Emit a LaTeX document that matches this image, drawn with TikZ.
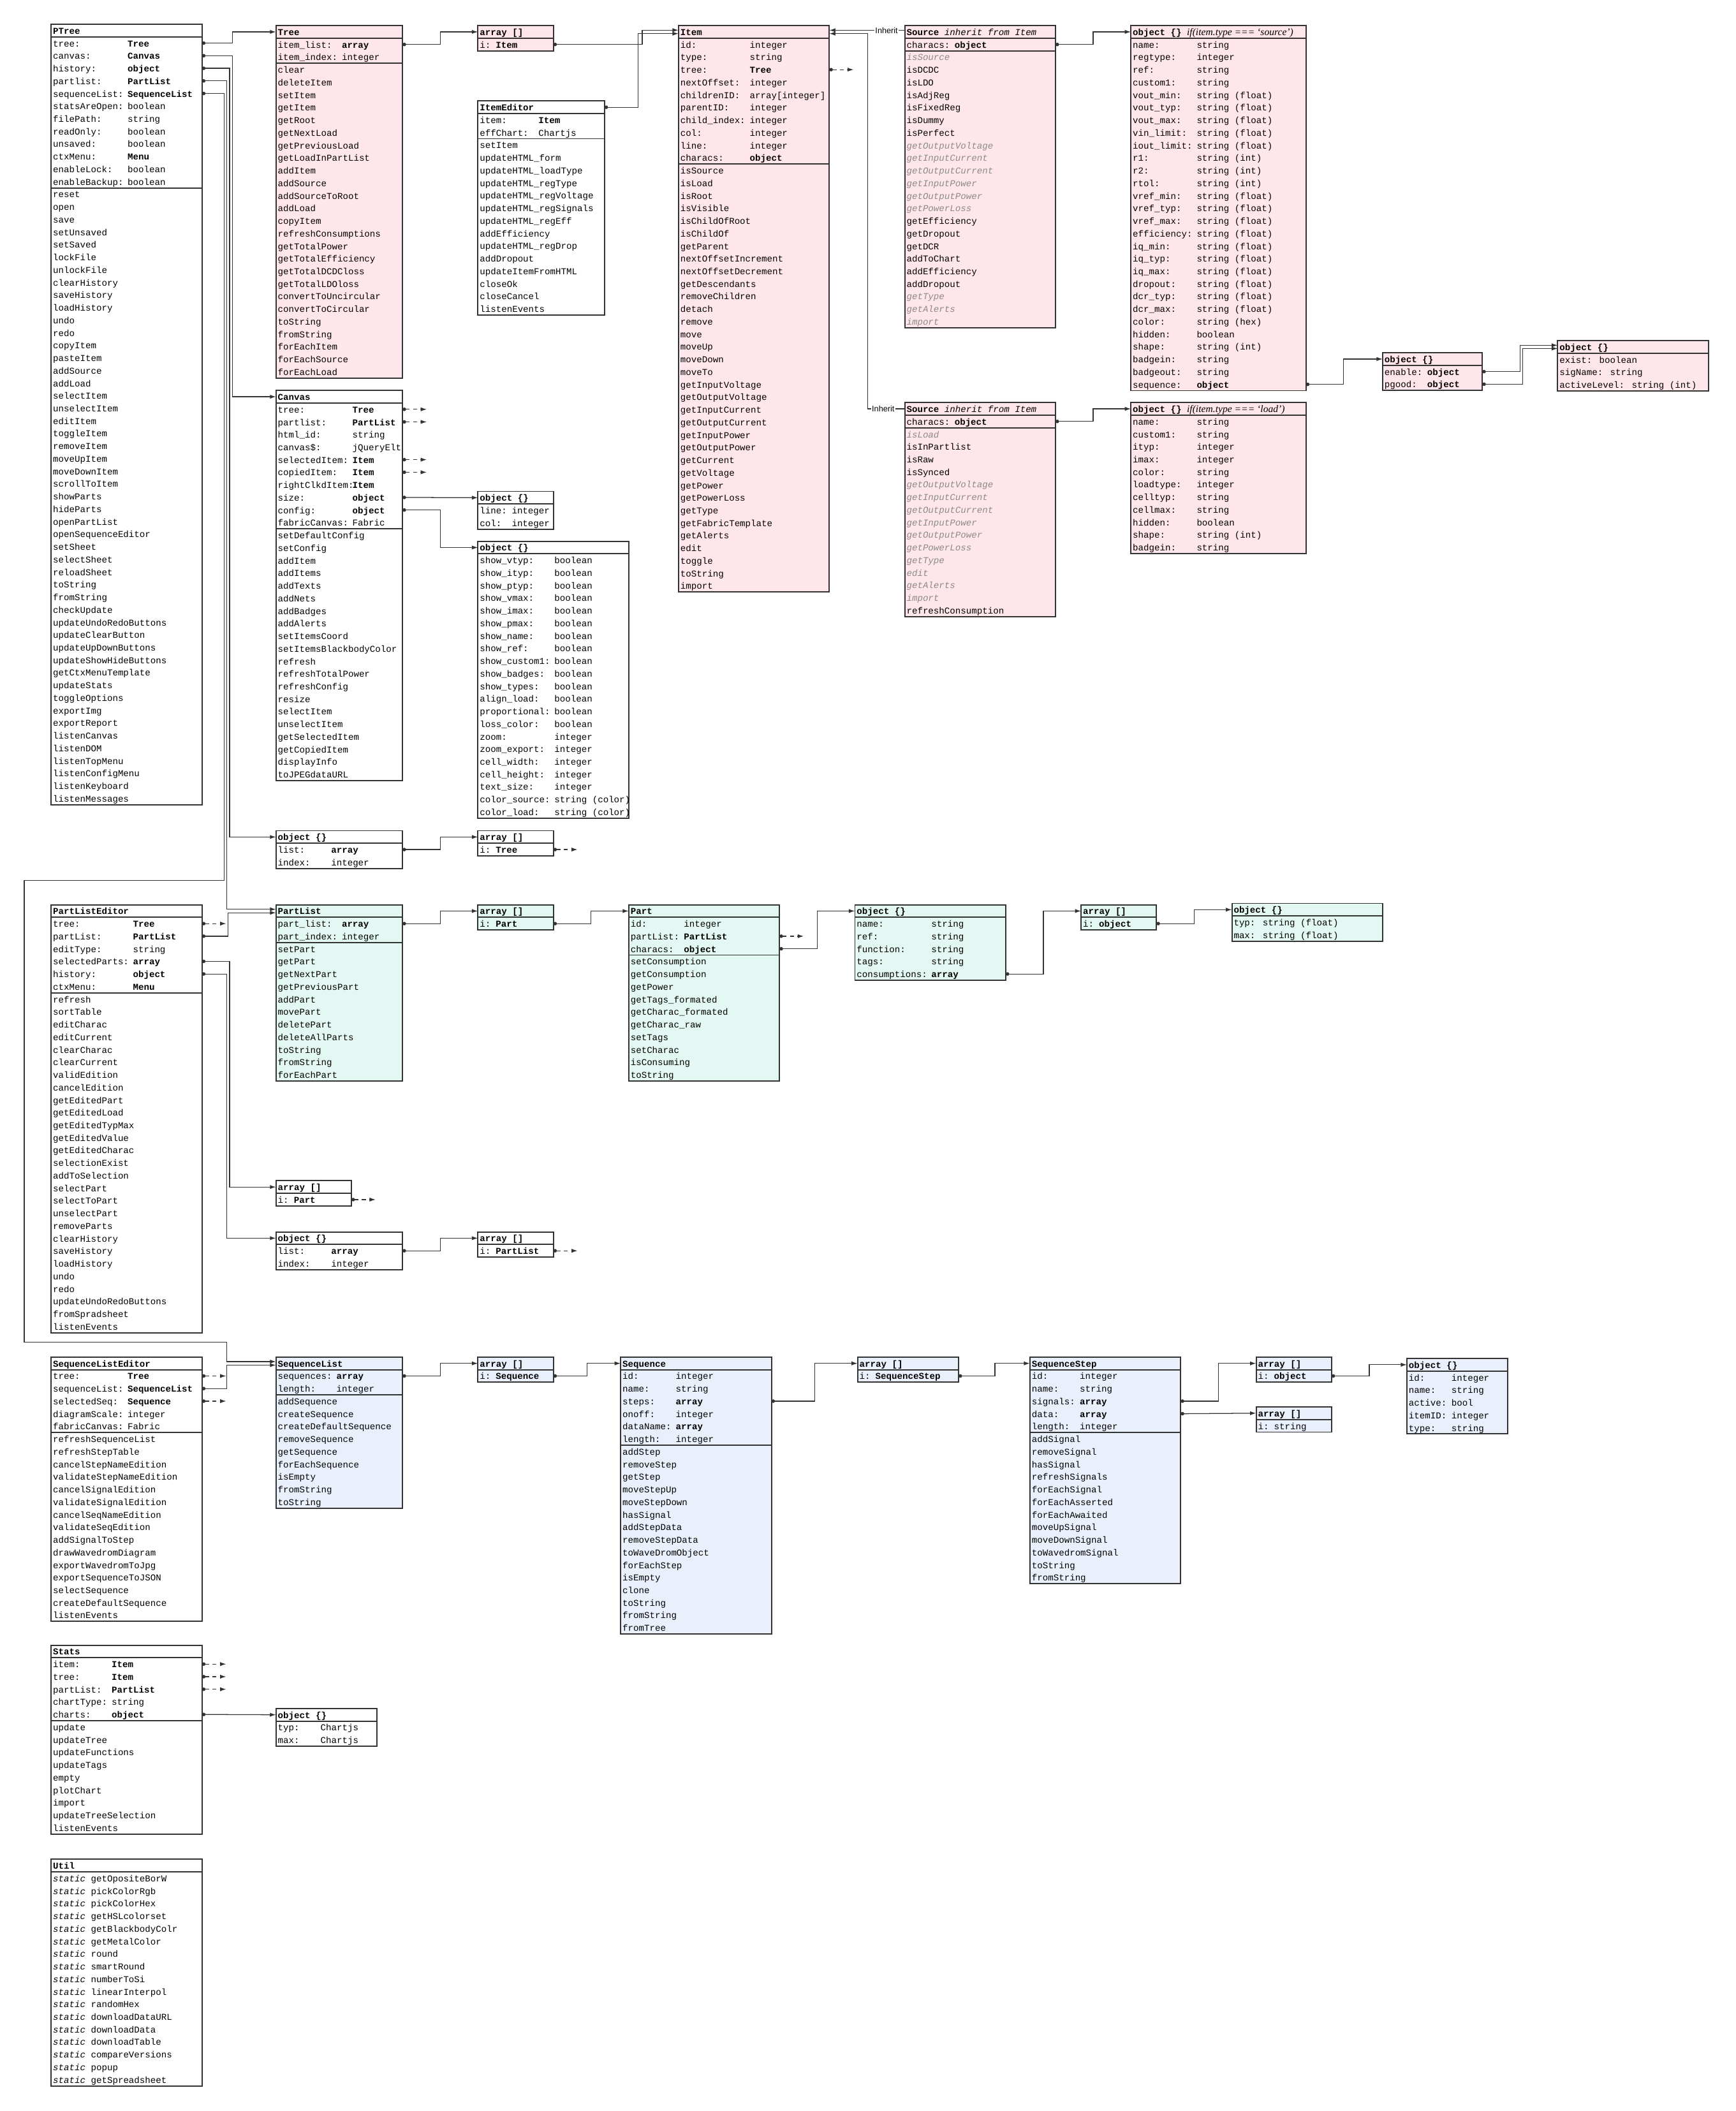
\documentclass[tikz,border=0pt]{standalone}
\usepackage{fontspec}
\setmainfont{Liberation Mono}
\newfontfamily\lsans{Liberation Sans}
\newfontfamily\lserif{Liberation Serif}
\usetikzlibrary{arrows.meta,calc}
\definecolor{pk}{HTML}{FFE6EB}
\definecolor{mt}{HTML}{E4F8F3}
\definecolor{bl}{HTML}{EAF0FB}
\definecolor{lc}{HTML}{333333}
\definecolor{gtx}{HTML}{8A8A8A}
\newcommand\gi[1]{{\color{gtx}\itshape #1}}
\newcommand\rh{9.35}
\newcommand\tyo{0.9}
\newcommand\cbox[8]{%
  \pgfmathsetmacro\cbx{#2}%
  \pgfmathsetmacro\cby{#3}%
  \pgfmathsetmacro\cbw{#4}%
  \pgfmathtruncatemacro\cbna{#5}%
  \pgfmathsetmacro\cbhh{(1+#5+#6)*\rh}%
  \node[box, fill=#7, minimum width=\cbw pt, minimum height=\cbhh pt] (#1) at ({\cbx+\cbw/2},{\cby+\cbhh/2}) {};%
  \draw[sepl] (\cbx,{\cby+\rh}) -- ({\cbx+\cbw},{\cby+\rh});%
  \ifnum#5>0 \ifnum#6>0 \draw[sepl] (\cbx,{\cby+(1+#5)*\rh}) -- ({\cbx+\cbw},{\cby+(1+#5)*\rh});\fi\fi
  \node[ttl] (#1-title) at ({\cbx+1.2},{\cby+0.5*\rh+\tyo}) {#8};%
  \coordinate (#1-t) at (\cbx,{\cby+0.5*\rh});%
  \coordinate (#1-tr) at ({\cbx+\cbw},{\cby+0.5*\rh});%
  \ifnum#5>0 \foreach \i in {1,...,#5}{\coordinate (#1-r\i) at ({\cbx+\cbw},{\cby+(\i+0.5)*\rh});}\fi
}
\newcommand\cattrs[3]{%
  \foreach \attrN/\attrT [count=\i] in {#3}{%
    \node[txt] (#1-a\i) at ({\cbx+1.2},{\cby+(\i+0.5)*\rh+\tyo}) {\attrN};
    \node[txt] (#1-b\i) at ({\cbx+1.2+#2*3.96},{\cby+(\i+0.5)*\rh+\tyo}) {\attrT};
  }%
}
\newcommand\cmeths[2]{%
  \foreach \mm [count=\i] in {#2}{%
    \node[txt] (#1-m\i) at ({\cbx+1.2},{\cby+(\cbna+\i+0.5)*\rh+\tyo}) {\mm};
  }%
}
\begin{document}
\begin{tikzpicture}[x=1pt,y=-1pt,
  box/.style={draw=lc, line width=0.9pt, inner sep=0pt, rectangle},
  sepl/.style={draw=lc, line width=0.9pt},
  txt/.style={anchor=west, inner sep=0pt, text height=4.7pt, text depth=1.3pt, font=\fontsize{6.7}{8}\selectfont},
  ttl/.style={txt, font=\fontsize{6.7}{8}\selectfont\bfseries},
  conn/.style={draw=lc, line width=0.6pt, {Circle[length=2.6pt]}-{Latex[length=4.5pt,width=3pt]}},
  dref/.style={conn, dash pattern=on 3pt off 2.5pt},
  inh/.style={draw=lc, line width=0.6pt, -{Latex[length=4.5pt,width=3pt]}},
  inhl/.style={font=\lsans\fontsize{6}{7}\selectfont, fill=white, inner sep=0.8pt}]
\fill[white] (0,0) rectangle (1289,1568);
\useasboundingbox (0,0) rectangle (1289,1568);

% ---------------- PTree
\cbox{ptree}{38}{18}{112}{12}{49}{white}{PTree}
\cattrs{ptree}{14}{tree:/\textbf{Tree}, canvas:/\textbf{Canvas}, history:/\textbf{object}, partlist:/\textbf{PartList}, sequenceList:/\textbf{SequenceList}, statsAreOpen:/boolean, filePath:/string, readOnly:/boolean, unsaved:/boolean, ctxMenu:/\textbf{Menu}, enableLock:/boolean, enableBackup:/boolean}
\cmeths{ptree}{reset, open, save, setUnsaved, setSaved, lockFile, unlockFile, clearHistory, saveHistory, loadHistory, undo, redo, copyItem, pasteItem, addSource, addLoad, selectItem, unselectItem, editItem, toggleItem, removeItem, moveUpItem, moveDownItem, scrollToItem, showParts, hideParts, openPartList, openSequenceEditor, setSheet, selectSheet, reloadSheet, toString, fromString, checkUpdate, updateUndoRedoButtons, updateClearButton, updateUpDownButtons, updateShowHideButtons, getCtxMenuTemplate, updateStats, toggleOptions, exportImg, exportReport, listenCanvas, listenDOM, listenTopMenu, listenConfigMenu, listenKeyboard, listenMessages}

% ---------------- Tree
\cbox{tree}{205}{19}{94}{2}{25}{pk}{Tree}
\cattrs{tree}{12}{item\_list:/\textbf{array}, item\_index:/integer}
\cmeths{tree}{clear, deleteItem, setItem, getItem, getRoot, getNextLoad, getPreviousLoad, getLoadInPartList, addItem, addSource, addSourceToRoot, addLoad, copyItem, refreshConsumptions, getTotalPower, getTotalEfficiency, getTotalDCDCloss, getTotalLDOloss, convertToUncircular, convertToCircular, toString, fromString, forEachItem, forEachSource, forEachLoad}

\cbox{arrI}{355}{19}{56}{1}{0}{pk}{array []}
\cattrs{arrI}{3}{i:/\textbf{Item}}

\cbox{itemed}{355}{75}{94}{2}{14}{white}{ItemEditor}
\cattrs{itemed}{11}{item:/\textbf{Item}, effChart:/Chartjs}
\cmeths{itemed}{setItem, updateHTML\_form, updateHTML\_loadType, updateHTML\_regType, updateHTML\_regVoltage, updateHTML\_regSignals, updateHTML\_regEff, addEfficiency, updateHTML\_regDrop, addDropout, updateItemFromHTML, closeOk, closeCancel, listenEvents}

% ---------------- Item
\cbox{item}{504}{19}{112}{10}{34}{pk}{Item}
\cattrs{item}{13}{id:/integer, type:/string, tree:/\textbf{Tree}, nextOffset:/integer, childrenID:/{array[integer]}, parentID:/integer, child\_index:/integer, col:/integer, line:/integer, characs:/\textbf{object}}
\cmeths{item}{isSource, isLoad, isRoot, isVisible, isChildOfRoot, isChildOf, getParent, nextOffsetIncrement, nextOffsetDecrement, getDescendants, removeChildren, detach, remove, move, moveUp, moveDown, moveTo, getInputVoltage, getOutputVoltage, getInputCurrent, getOutputCurrent, getInputPower, getOutputPower, getCurrent, getVoltage, getPower, getPowerLoss, getType, getFabricTemplate, getAlerts, edit, toggle, toString, import}

% ---------------- Sources
\cbox{srcA}{672}{19}{112}{1}{22}{pk}{Source {\mdseries\itshape inherit from Item}}
\cattrs{srcA}{9}{characs:/\textbf{object}}
\cmeths{srcA}{\gi{isSource}, isDCDC, isLDO, isAdjReg, isFixedReg, isDummy, isPerfect, \gi{getOutputVoltage}, \gi{getInputCurrent}, \gi{getOutputCurrent}, \gi{getInputPower}, \gi{getOutputPower}, \gi{getPowerLoss}, getEfficiency, getDropout, getDCR, addToChart, addEfficiency, addDropout, \gi{getType}, \gi{getAlerts}, \gi{import}}

\cbox{srcB}{672}{299}{112}{1}{15}{pk}{Source {\mdseries\itshape inherit from Item}}
\cattrs{srcB}{9}{characs:/\textbf{object}}
\cmeths{srcB}{\gi{isLoad}, isInPartlist, isRaw, isSynced, \gi{getOutputVoltage}, \gi{getInputCurrent}, \gi{getOutputCurrent}, \gi{getInputPower}, \gi{getOutputPower}, \gi{getPowerLoss}, \gi{getType}, \gi{edit}, \gi{getAlerts}, \gi{import}, refreshConsumption}

\cbox{objS}{840}{19}{130}{28}{0}{pk}{object \{\} {\mdseries\lserif\itshape\fontsize{7.4}{8}\selectfont if(item.type === ‘source’)}}
\cattrs{objS}{12}{name:/string, regtype:/integer, ref:/string, custom1:/string, vout\_min:/string (float), vout\_typ:/string (float), vout\_max:/string (float), vin\_limit:/string (float), iout\_limit:/string (float), r1:/string (int), r2:/string (int), rtol:/string (int), vref\_min:/string (float), vref\_typ:/string (float), vref\_max:/string (float), efficiency:/string (float), iq\_min:/string (float), iq\_typ:/string (float), iq\_max:/string (float), dropout:/string (float), dcr\_typ:/string (float), dcr\_max:/string (float), color:/string (hex), hidden:/boolean, shape:/string (int), badgein:/string, badgeout:/string, sequence:/\textbf{object}}

\cbox{objL}{840}{299}{130}{11}{0}{pk}{object \{\} {\mdseries\lserif\itshape\fontsize{7.4}{8}\selectfont if(item.type === ‘load’)}}
\cattrs{objL}{12}{name:/string, custom1:/string, ityp:/integer, imax:/integer, color:/string, loadtype:/integer, celltyp:/string, cellmax:/string, hidden:/boolean, shape:/string (int), badgein:/string}

\cbox{objE}{1027}{262}{74}{2}{0}{pk}{object \{\}}
\cattrs{objE}{8}{enable:/\textbf{object}, pgood:/\textbf{object}}

\cbox{objX}{1157}{253}{112}{3}{0}{pk}{object \{\}}
\cattrs{objX}{0}{{exist: boolean}/{}, {sigName: string}/{}, {activeLevel: string (int)}/{}}

% ---------------- Canvas
\cbox{canvas}{205}{290}{94}{10}{20}{white}{Canvas}
\cattrs{canvas}{14}{tree:/\textbf{Tree}, partlist:/\textbf{PartList}, html\_id:/string, canvas\$:/jQueryElt, selectedItem:/\textbf{Item}, copiedItem:/\textbf{Item}, rightClkdItem:/\textbf{Item}, size:/\textbf{object}, config:/\textbf{object}, fabricCanvas:/Fabric}
\cmeths{canvas}{setDefaultConfig, setConfig, addItem, addItems, addTexts, addNets, addBadges, addAlerts, setItemsCoord, setItemsBlackbodyColor, refresh, refreshTotalPower, refreshConfig, resize, selectItem, unselectItem, getSelectedItem, getCopiedItem, displayInfo, toJPEGdataURL}

\cbox{objSz}{355}{365}{56}{2}{0}{white}{object \{\}}
\cattrs{objSz}{6}{line:/integer, col:/integer}

\cbox{objCf}{355}{402}{112}{21}{0}{white}{object \{\}}
\cattrs{objCf}{14}{show\_vtyp:/boolean, show\_ityp:/boolean, show\_ptyp:/boolean, show\_vmax:/boolean, show\_imax:/boolean, show\_pmax:/boolean, show\_name:/boolean, show\_ref:/boolean, show\_custom1:/boolean, show\_badges:/boolean, show\_types:/boolean, align\_load:/boolean, proportional:/boolean, loss\_color:/boolean, zoom:/integer, zoom\_export:/integer, cell\_width:/integer, cell\_height:/integer, text\_size:/integer, color\_source:/string (color), color\_load:/string (color)}

\cbox{objH}{205}{617}{94}{2}{0}{white}{object \{\}}
\cattrs{objH}{10}{list:/\textbf{array}, index:/integer}
\cbox{arrT}{355}{617}{56}{1}{0}{white}{array []}
\cattrs{arrT}{3}{i:/\textbf{Tree}}

% ---------------- PartListEditor
\cbox{ple}{38}{672}{112}{6}{27}{white}{PartListEditor}
\cattrs{ple}{15}{tree:/\textbf{Tree}, partList:/\textbf{PartList}, editType:/string, selectedParts:/\textbf{array}, history:/\textbf{object}, ctxMenu:/\textbf{Menu}}
\cmeths{ple}{refresh, sortTable, editCharac, editCurrent, clearCharac, clearCurrent, validEdition, cancelEdition, getEditedPart, getEditedLoad, getEditedTypMax, getEditedValue, getEditedCharac, selectionExist, addToSelection, selectPart, selectToPart, unselectPart, removeParts, clearHistory, saveHistory, loadHistory, undo, redo, updateUndoRedoButtons, fromSpradsheet, listenEvents}

\cbox{partlist}{205}{672}{94}{2}{11}{mt}{PartList}
\cattrs{partlist}{12}{part\_list:/\textbf{array}, part\_index:/integer}
\cmeths{partlist}{setPart, getPart, getNextPart, getPreviousPart, addPart, movePart, deletePart, deleteAllParts, toString, fromString, forEachPart}

\cbox{arrP}{355}{672}{56}{1}{0}{mt}{array []}
\cattrs{arrP}{3}{i:/\textbf{Part}}

\cbox{part}{467}{672}{112}{3}{10}{mt}{Part}
\cattrs{part}{10}{id:/integer, partList:/\textbf{PartList}, characs:/\textbf{object}}
\cmeths{part}{setConsumption, getConsumption, getPower, getTags\_formated, getCharac\_formated, getCharac\_raw, setTags, setCharac, isConsuming, toString}

\cbox{objPc}{635}{672}{112}{5}{0}{mt}{object \{\}}
\cattrs{objPc}{14}{name:/string, ref:/string, function:/string, tags:/string, consumptions:/\textbf{array}}

\cbox{arrO}{803}{672}{56}{1}{0}{mt}{array []}
\cattrs{arrO}{3}{i:/\textbf{object}}

\cbox{objTM}{915}{671}{112}{2}{0}{mt}{object \{\}}
\cattrs{objTM}{0}{{typ: string (float)}/{}, {max: string (float)}/{}}

\cbox{arrSP}{205}{877}{56}{1}{0}{white}{array []}
\cattrs{arrSP}{3}{i:/\textbf{Part}}

\cbox{objHb}{205}{915}{94}{2}{0}{white}{object \{\}}
\cattrs{objHb}{10}{list:/\textbf{array}, index:/integer}

\cbox{arrPL}{355}{915}{56}{1}{0}{white}{array []}
\cattrs{arrPL}{3}{i:/\textbf{PartList}}

% ---------------- Sequences
\cbox{sle}{38}{1008}{112}{5}{15}{white}{SequenceListEditor}
\cattrs{sle}{14}{tree:/\textbf{Tree}, sequenceList:/\textbf{SequenceList}, selectedSeq:/\textbf{Sequence}, diagramScale:/integer, fabricCanvas:/Fabric}
\cmeths{sle}{refreshSequenceList, refreshStepTable, cancelStepNameEdition, validateStepNameEdition, cancelSignalEdition, validateSignalEdition, cancelSeqNameEdition, validateSeqEdition, addSignalToStep, drawWavedromDiagram, exportWavedromToJpg, exportSequenceToJSON, selectSequence, createDefaultSequence, listenEvents}

\cbox{seqlist}{205}{1008}{94}{2}{9}{bl}{SequenceList}
\cattrs{seqlist}{11}{sequences:/\textbf{array}, length:/integer}
\cmeths{seqlist}{addSequence, createSequence, createDefaultSequence, removeSequence, getSequence, forEachSequence, isEmpty, fromString, toString}

\cbox{arrS}{355}{1008}{56}{1}{0}{bl}{array []}
\cattrs{arrS}{3}{i:/\textbf{Sequence}}

\cbox{seq}{461}{1008}{112}{6}{15}{bl}{Sequence}
\cattrs{seq}{10}{id:/integer, name:/string, steps:/\textbf{array}, onoff:/integer, dataName:/\textbf{array}, length:/integer}
\cmeths{seq}{addStep, removeStep, getStep, moveStepUp, moveStepDown, hasSignal, addStepData, removeStepData, toWaveDromObject, forEachStep, isEmpty, clone, toString, fromString, fromTree}

\cbox{arrSS}{637}{1008}{75}{1}{0}{bl}{array []}
\cattrs{arrSS}{3}{i:/\textbf{SequenceStep}}

\cbox{step}{765}{1008}{112}{5}{12}{bl}{SequenceStep}
\cattrs{step}{9}{id:/integer, name:/string, signals:/\textbf{array}, data:/\textbf{array}, length:/integer}
\cmeths{step}{addSignal, removeSignal, hasSignal, refreshSignals, forEachSignal, forEachAsserted, forEachAwaited, moveUpSignal, moveDownSignal, toWavedromSignal, toString, fromString}

\cbox{arrSO}{933}{1008}{56}{1}{0}{bl}{array []}
\cattrs{arrSO}{3}{i:/\textbf{object}}
\cbox{arrSt}{933}{1045}{56}{1}{0}{bl}{array []}
\cattrs{arrSt}{3}{i:/string}

\cbox{objSig}{1045}{1009}{75}{5}{0}{bl}{object \{\}}
\cattrs{objSig}{8}{id:/integer, name:/string, active:/bool, itemID:/integer, type:/string}

% ---------------- Stats / Util
\cbox{stats}{38}{1222}{112}{5}{9}{white}{Stats}
\cattrs{stats}{11}{item:/\textbf{Item}, tree:/\textbf{Item}, partList:/\textbf{PartList}, chartType:/string, charts:/\textbf{object}}
\cmeths{stats}{update, updateTree, updateFunctions, updateTags, empty, plotChart, import, updateTreeSelection, listenEvents}

\cbox{objCh}{205}{1269}{75}{2}{0}{white}{object \{\}}
\cattrs{objCh}{8}{typ:/Chartjs, max:/Chartjs}

\cbox{util}{38}{1381}{112}{0}{17}{white}{Util}
\cmeths{util}{\textit{static} getOpositeBorW, \textit{static} pickColorRgb, \textit{static} pickColorHex, \textit{static} getHSLcolorset, \textit{static} getBlackbodyColr, \textit{static} getMetalColor, \textit{static} round, \textit{static} smartRound, \textit{static} numberToSi, \textit{static} linearInterpol, \textit{static} randomHex, \textit{static} downloadDataURL, \textit{static} downloadData, \textit{static} downloadTable, \textit{static} compareVersions, \textit{static} popup, \textit{static} getSpreadsheet}

% ================= connectors
\coordinate (bendA) at (18,654);
\coordinate (bendB) at (168.5,997);
\draw[conn] (ptree-r1) -- ++(22.5,0) |- (tree-t);
\draw[conn] (ptree-r2) -- ++(22.5,0) |- (canvas-t);
\draw[conn] (ptree-r3) -- ++(20.5,0) |- (objH-t);
\draw[conn] (ptree-r4) -- ++(18.5,0) |- ($(partlist-t)+(0,-1.3)$);
\draw[conn] (ptree-r5) -- ++(16.5,0) |- (bendA) |- (bendB) |- ($(seqlist-t)+(0,-1.3)$);

\draw[conn] (tree-r1) -- ++(28,0) |- (arrI-t);
\draw[conn] (arrI-r1) -- ++(66,0) |- ($(item-t)+(0,-1.3)$);
\draw[conn] (itemed-tr) -- ++(25,0) |- ($(item-t)+(0,1.3)$);
\draw[dref] (item-r3) -- ++(18,0);
\draw[inh] ($(srcA-t)+(0,-1.2)$) -- ($(item-tr)+(0,-1.2)$);
\draw[inh] (srcB-t) -| ($(item-tr)+(28.5,1.3)$) -- ($(item-tr)+(0,1.3)$);
\node[inhl] (inhA) at (658.5,22.5) {Inherit};
\node[inhl] (inhB) at (656,303.7) {Inherit};

\draw[conn] (srcA-r1) -- ++(28,0) |- (objS-t);
\draw[conn] (srcB-r1) -- ++(28,0) |- (objL-t);
\draw[conn] (objS-r28) -- ++(28,0) |- (objE-t);
\draw[conn] (objE-r1) -- ++(28,0) |- ($(objX-t)+(0,-1.2)$);
\draw[conn] (objE-r2) -- ++(30,0) |- ($(objX-t)+(0,1.2)$);

\foreach \k in {1,2,5,6} \draw[dref] (canvas-r\k) -- ++(18,0);
\draw[conn] (canvas-r8) -- (objSz-t);
\draw[conn] (canvas-r9) -- ++(28,0) |- (objCf-t);
\draw[conn] (objH-r1) -- ++(28,0) |- (arrT-t);
\draw[dref] (arrT-r1) -- ++(18,0);

\draw[dref] (ple-r1) -- ++(18,0);
\draw[conn] (ple-r2) -- ++(19.5,0) |- ($(partlist-t)+(0,1.3)$);
\draw[conn] (ple-r4) -- ++(20.5,0) |- (arrSP-t);
\draw[conn] (ple-r5) -- ++(18.5,0) |- (objHb-t);
\draw[dref] (arrSP-r1) -- ++(18,0);
\draw[conn] (objHb-r1) -- ++(28,0) |- (arrPL-t);
\draw[dref] (arrPL-r1) -- ++(18,0);

\draw[conn] (partlist-r1) -- ++(28,0) |- (arrP-t);
\draw[conn] (arrP-r1) -- ++(28,0) |- (part-t);
\draw[dref] (part-r2) -- ++(18,0);
\draw[conn] (part-r3) -- ++(28,0) |- (objPc-t);
\draw[conn] (objPc-r5) -- ++(28,0) |- (arrO-t);
\draw[conn] (arrO-r1) -- ++(28,0) |- (objTM-t);

\draw[dref] (sle-r1) -- ++(18,0);
\draw[conn] (sle-r2) -- ++(18.5,0) |- ($(seqlist-t)+(0,1.3)$);
\draw[dref] (sle-r3) -- ++(18,0);
\draw[conn] (seqlist-r1) -- ++(28,0) |- (arrS-t);
\draw[conn] (arrS-r1) -- ++(25,0) |- (seq-t);
\draw[conn] (seq-r3) -- ++(32,0) |- (arrSS-t);
\draw[conn] (arrSS-r1) -- ++(27,0) |- (step-t);
\draw[conn] (step-r3) -- ++(28,0) |- (arrSO-t);
\draw[conn] (step-r4) -- (arrSt-t);
\draw[conn] (arrSO-r1) -- ++(28,0) |- (objSig-t);

\foreach \k in {1,2,3} \draw[dref] (stats-r\k) -- ++(18,0);
\draw[conn] (stats-r5) -- (objCh-t);
\end{tikzpicture}
\end{document}
